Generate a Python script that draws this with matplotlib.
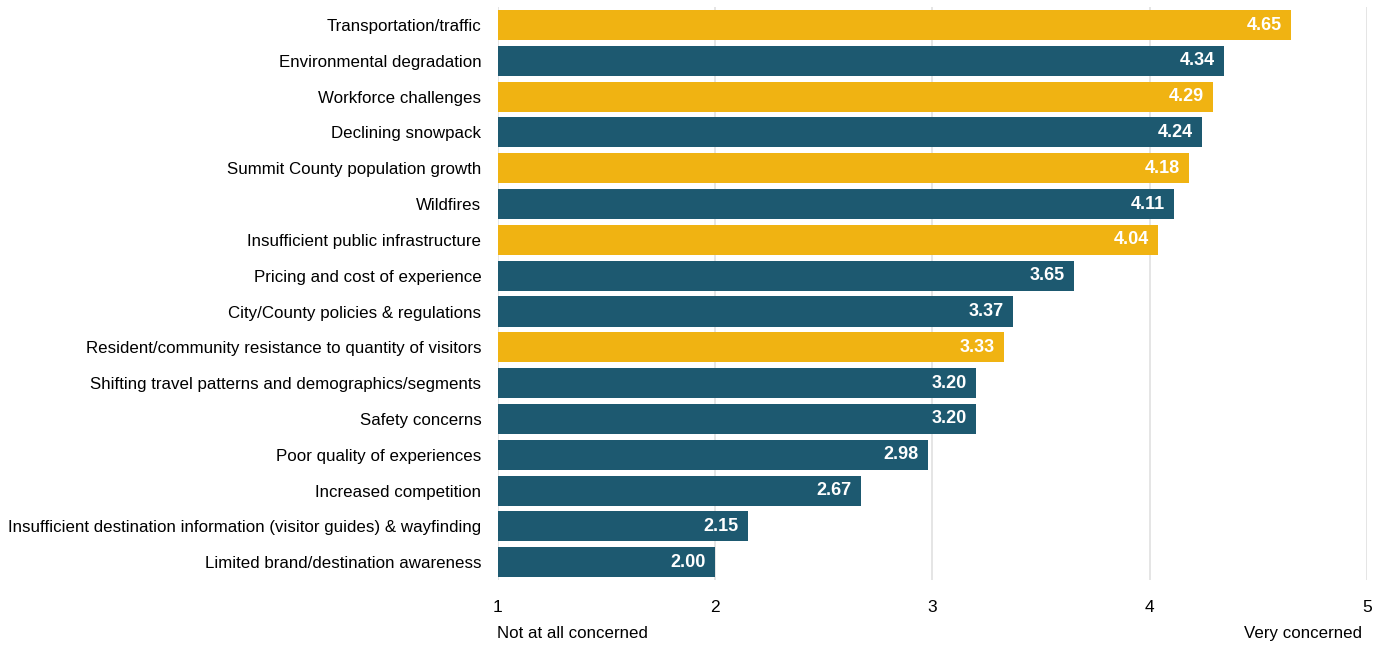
import matplotlib
matplotlib.use("Agg")
import matplotlib.pyplot as plt

plt.rcParams['font.family'] = ['Liberation Sans Narrow', 'Liberation Sans', 'DejaVu Sans']

categories = [
    "Transportation/traffic",
    "Environmental degradation",
    "Workforce challenges",
    "Declining snowpack",
    "Summit County population growth",
    "Wildfires",
    "Insufficient public infrastructure",
    "Pricing and cost of experience",
    "City/County policies & regulations",
    "Resident/community resistance to quantity of visitors",
    "Shifting travel patterns and demographics/segments",
    "Safety concerns",
    "Poor quality of experiences",
    "Increased competition",
    "Insufficient destination information (visitor guides) & wayfinding",
    "Limited brand/destination awareness",
]
values = [4.65, 4.34, 4.29, 4.24, 4.18, 4.11, 4.04, 3.65, 3.37, 3.33, 3.20, 3.20, 2.98, 2.67, 2.15, 2.00]
highlight = [True, False, True, False, True, False, True, False, False, True, False, False, False, False, False, False]

gold = '#F0B312'
teal = '#1D5970'
colors = [gold if h else teal for h in highlight]

fig = plt.figure(figsize=(13.87, 6.46), dpi=100)
ax = fig.add_axes([0.359, 0.102, 0.6265, 0.887])

y = list(range(len(categories)))
ax.barh(y, [v - 1 for v in values], left=1, height=0.84, color=colors, zorder=3)

for yi, v in zip(y, values):
    ax.text(v - 0.042, yi, f"{v:.2f}", ha='right', va='center', color='white',
            fontsize=13, fontweight='bold', zorder=4)

ax.set_yticks(y)
ax.set_yticklabels(categories, fontsize=12.2)
ax.set_ylim(len(categories) - 0.5, -0.5)
ax.set_xlim(1, 5)
ax.set_xticks([1, 2, 3, 4, 5])
ax.set_xticklabels(['1', '2', '3', '4', '5'], fontsize=12.5)
ax.tick_params(axis='both', length=0)
ax.tick_params(axis='y', pad=12)
ax.tick_params(axis='x', pad=14)
ax.grid(axis='x', color='#E0E0E0', linewidth=1.2, zorder=0)
for s in ax.spines.values():
    s.set_visible(False)

fig.text(0.358, 0.02, "Not at all concerned", ha='left', va='center', fontsize=12.2)
fig.text(0.982, 0.02, "Very concerned", ha='right', va='center', fontsize=12.2)

fig.savefig("out.png", dpi=100)
